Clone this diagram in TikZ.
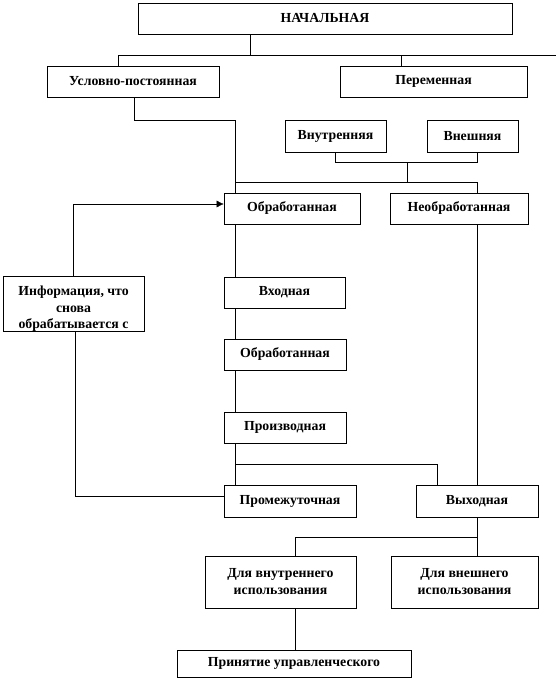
\documentclass[tikz,border=0pt]{standalone}
\usepackage{fontspec}
\setmainfont{Liberation Serif}
\usetikzlibrary{arrows.meta,backgrounds}

\begin{document}
\begin{tikzpicture}[x=1pt,y=-1pt,line width=0.7pt,
  bx/.style={draw,fill=white,inner sep=0pt,align=center,
    font=\fontsize{13.8}{17}\selectfont\bfseries},
  ln/.style={draw}]
  \useasboundingbox (0,0) rectangle (556,678);
  \node[bx,minimum width=374pt,minimum height=31pt] (Nach) at (325,18.5) {НАЧАЛЬНАЯ};
  \node[bx,minimum width=172pt,minimum height=31pt] (Usl) at (133,81.5) {Условно-постоянная};
  \node[bx,minimum width=187pt,minimum height=31pt] (Per) at (433.5,81.5) {Переменная};
  \node[bx,minimum width=101pt,minimum height=32pt] (Vnu) at (335.5,136) {Внутренняя};
  \node[bx,minimum width=91pt,minimum height=32pt] (Vne) at (472.5,136) {Внешняя};
  \node[bx,minimum width=136pt,minimum height=31pt] (Obr) at (292,208.5) {Обработанная};
  \node[bx,minimum width=138pt,minimum height=31pt] (Neo) at (459,208.5) {Необработанная};
  \node[bx,minimum width=141pt,minimum height=55pt] (Inf) at (73.5,303.5) {};
  \begin{scope}
    \clip (Inf.south west) rectangle (Inf.north east);
    \node[align=center,font=\fontsize{13.8}{16.5}\selectfont\bfseries] at (73.5,309)
      {Информация, что\\снова\\обрабатывается с};
  \end{scope}
  \node[bx,minimum width=121pt,minimum height=31pt] (Vho) at (284.5,292.5) {Входная};
  \node[bx,minimum width=122pt,minimum height=31pt] (Ob2) at (285,354.5) {Обработанная};
  \node[bx,minimum width=122pt,minimum height=31pt] (Pro) at (285,427.5) {Производная};
  \node[bx,minimum width=132pt,minimum height=32pt] (Prm) at (290,501) {Промежуточная};
  \node[bx,minimum width=122pt,minimum height=32pt] (Vyh) at (477,501) {Выходная};
  \node[bx,minimum width=151pt,minimum height=52pt] (Dvn) at (280.5,582) {Для внутреннего\\использования};
  \node[bx,minimum width=147pt,minimum height=52pt] (Dvs) at (464.5,582) {Для внешнего\\использования};
  \node[bx,minimum width=234pt,minimum height=27pt] (Pri) at (294,663.5) {Принятие управленческого};
  \coordinate (Jn) at (250,55);
  \coordinate (Bl) at (118,55);
  \coordinate (Br) at (556,55);
  \coordinate (Jp) at (401,55);
  \coordinate (Kk) at (134,120);
  \coordinate (Mm) at (235,120);
  \coordinate (Qq) at (477,162);
  \coordinate (Rr) at (407,182);
  \coordinate (Ss) at (477,182);
  \coordinate (Tt) at (437,464);
  \coordinate (Uu) at (477,537);
  \coordinate (Vv) at (295,537);
  \begin{scope}[on background layer]
    \draw (Nach.south -| Jn) -- (Jn);
    \draw (Usl.north -| Bl) -- (Bl) -- (Br);
    \draw (Jp) -- (Per.north -| Jp);
    \draw (Usl.south -| Kk) -- (Kk) -- (Mm) -- (Vho.north -| Mm);
    \draw (Vnu.south) |- (Qq) -- (Vne.south -| Qq);
    \draw (Rr |- Qq) -- (Rr);
    \draw (Mm |- Ss) -- (Ss) -- (Neo.north -| Ss);
    \draw (Neo.south -| Ss) -- (Vyh.north);
    \draw[-{Latex[length=7pt,width=7pt]}] (Inf.north) |- ([yshift=4.5pt]Obr.west);
    \draw ([xshift=1.5pt]Inf.south) |- ([yshift=5pt]Prm.west);
    \draw (Vho.south -| Mm) -- (Ob2.north -| Mm);
    \draw (Ob2.south -| Mm) -- (Pro.north -| Mm);
    \draw (Pro.south -| Mm) -- (Prm.north -| Mm);
    \draw (Mm |- Tt) -- (Tt) -- (Vyh.north -| Tt);
    \draw (Vyh.south) -- (Uu) -- (Vv) -- (Dvn.north -| Vv);
    \draw (Uu) -- (Dvs.north -| Uu);
    \draw (Dvn.south -| Vv) -- (Pri.north -| Vv);
  \end{scope}
\end{tikzpicture}
\end{document}
